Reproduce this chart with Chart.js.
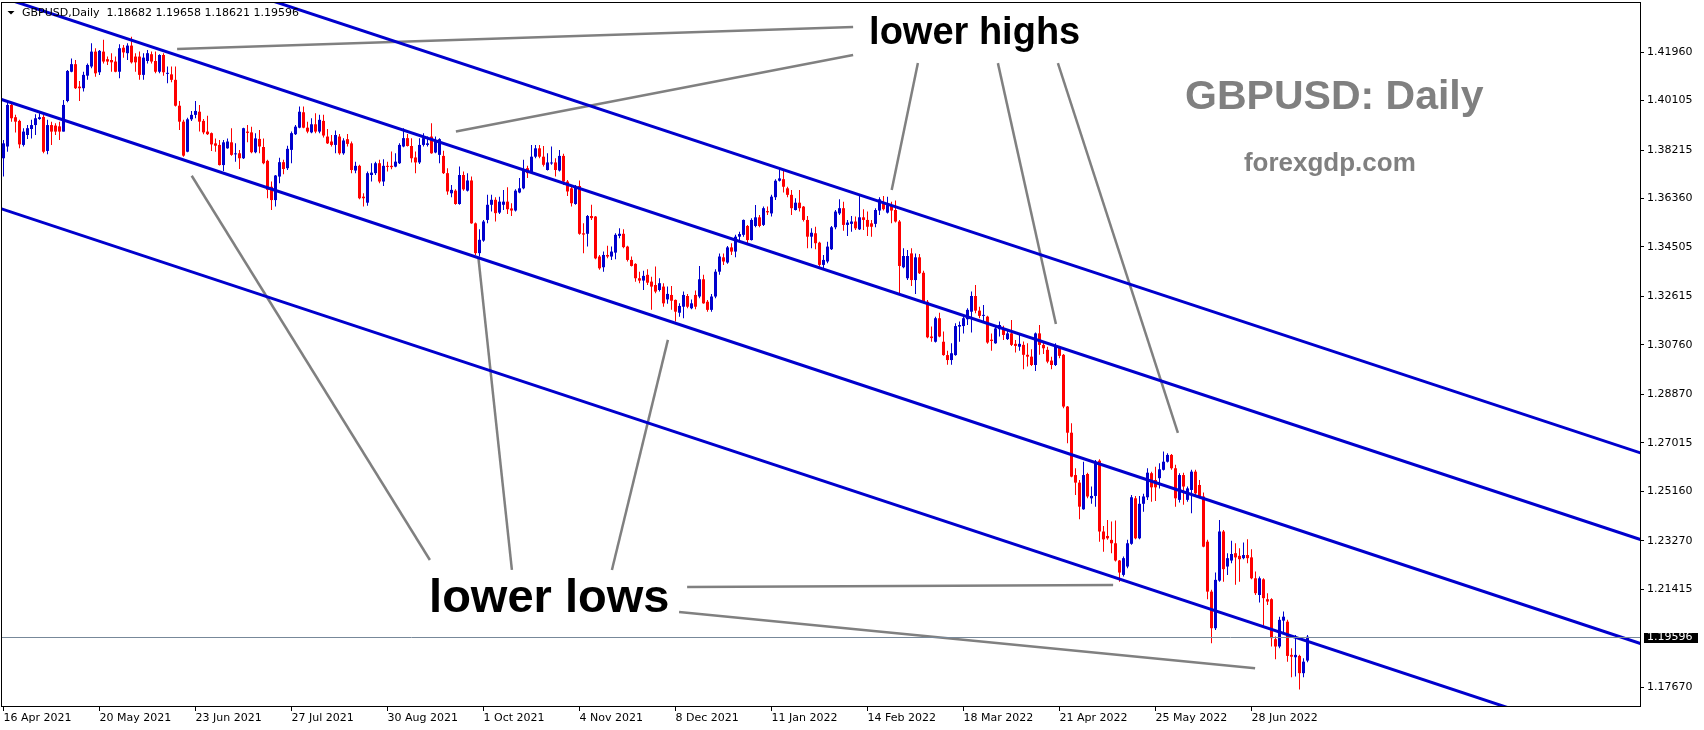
<!DOCTYPE html>
<html><head><meta charset="utf-8">
<script src="https://cdn.jsdelivr.net/npm/chart.js@4.4.1/dist/chart.umd.min.js"></script>
<style>html,body{margin:0;padding:0;background:#fff;overflow:hidden}canvas{display:block}</style>
</head><body>
<canvas id="c" width="1704" height="730"></canvas>
<script>
const SYMBOL = 'GBPUSD';
const PERIOD = 'Daily';

const OPEN = [
1.3790,1.3835,1.3994,1.3947,1.3933,1.3841,1.3879,1.3902,1.3917,1.3940,
1.3948,1.3818,1.3917,1.3915,1.3912,1.3892,1.4009,1.4121,1.4150,1.4064,
1.4058,1.4106,1.4141,1.4198,1.4119,1.4198,1.4169,1.4166,1.4160,1.4121,
1.4213,1.4192,1.4221,1.4179,1.4179,1.4109,1.4162,1.4188,1.4162,1.4121,
1.4185,1.4113,1.4111,1.4090,1.3991,1.3930,1.3815,1.3939,1.3956,1.3968,
1.3933,1.3892,1.3886,1.3847,1.3841,1.3764,1.3828,1.3851,1.3805,1.3809,
1.3790,1.3892,1.3889,1.3813,1.3864,1.3833,1.3780,1.3681,1.3630,1.3720,
1.3775,1.3752,1.3822,1.3882,1.3907,1.3966,1.3907,1.3889,1.3920,1.3892,
1.3933,1.3873,
1.3854,1.3841,1.3873,1.3809,1.3863,1.3847,1.3743,1.3761,1.3643,1.3620,
1.3726,1.3733,1.3771,1.3701,1.3761,1.3761,1.3758,1.3771,1.3835,1.3867,
1.3837,1.3793,1.3774,1.3841,1.3841,1.3873,1.3812,1.3803,1.3799,1.3733,
1.3656,1.3666,1.3615,1.3726,1.3666,1.3705,1.3541,1.3427,1.3475,1.3554,
1.3612,1.3631,1.3582,1.3612,1.3624,1.3598,1.3590,1.3659,1.3675,1.3752,
1.3735,1.3796,1.3828,1.3796,1.3745,1.3770,1.3774,1.3743,1.3799,1.3701,
1.3675,1.3615,1.3684,1.3503,1.3501,1.3569,1.3567,1.3414,1.3373,1.3420,
1.3414,1.3429,1.3493,1.3501,1.3452,1.3401,1.3386,1.3331,1.3322,1.3344,
1.3318,1.3305,1.3286,
1.3299,1.3250,1.3267,1.3248,1.3199,1.3222,1.3263,1.3216,1.3267,1.3261,
1.3327,1.3241,1.3210,1.3261,1.3356,1.3411,1.3391,1.3449,1.3433,1.3490,
1.3497,1.3531,1.3477,1.3531,1.3564,1.3535,1.3588,1.3579,1.3641,1.3704,
1.3710,1.3675,1.3650,1.3592,1.3620,1.3605,1.3554,1.3490,1.3503,1.3467,
1.3382,1.3395,1.3442,1.3526,1.3579,1.3599,1.3535,1.3539,1.3548,1.3518,
1.3564,1.3554,1.3541,1.3539,1.3590,1.3618,1.3582,1.3611,1.3592,1.3548,
1.3373,1.3331,1.3426,1.3324,1.3411,1.3352,1.3241,1.3108,1.3088,1.3178,
1.3088,1.3037,1.3018,1.3037,1.3146,1.3148,1.3174,1.3203,1.3263,1.3207,
1.3187,1.3184,1.3096,1.3082,1.3136,
1.3136,1.3098,1.3120,1.3080,1.3069,1.3076,1.3038,1.3031,1.2999,1.3120,
1.3076,1.3057,1.3016,1.2999,1.3067,1.3038,1.2840,1.2740,1.2578,1.2549,
1.2447,1.2582,1.2489,1.2498,1.2633,1.2362,1.2345,1.2330,1.2317,1.2251,
1.2196,1.2228,1.2315,1.2489,1.2336,1.2468,1.2493,1.2585,1.2559,1.2566,
1.2598,1.2629,1.2655,1.2604,1.2483,1.2578,1.2483,1.2521,1.2591,1.2540,
1.2496,1.2323,1.2132,1.1992,1.2174,1.2362,1.2228,1.2251,1.2279,1.2269,
1.2260,1.2272,1.2263,1.2183,1.2119,1.2179,1.2103,1.2103,1.1950,1.1922,
1.2021,1.2017,1.1890,1.1881,1.1886,1.1820,1.18682
];
const HIGH = [
1.3860,1.4013,1.4000,1.3956,1.3937,1.3905,1.3917,1.3937,1.3958,1.3962,
1.3956,1.3937,1.3930,1.3924,1.3930,1.4013,1.4128,1.4172,1.4166,1.4086,
1.4121,1.4153,1.4230,1.4211,1.4204,1.4243,1.4179,1.4192,1.4179,1.4226,
1.4223,1.4230,1.4255,1.4192,1.4198,1.4192,1.4204,1.4198,1.4198,1.4188,
1.4192,1.4141,1.4141,1.4141,1.4009,1.3937,1.3945,1.3971,1.4009,1.3994,
1.3940,1.3953,1.3889,1.3866,1.3860,1.3860,1.3866,1.3905,1.3847,1.3822,
1.3907,1.3917,1.3911,1.3886,1.3898,1.3866,1.3784,1.3701,1.3726,1.3792,
1.3784,1.3838,1.3892,1.3917,1.3988,1.3988,1.3930,1.3943,1.3962,1.3956,
1.3956,1.3902,
1.3879,1.3896,1.3883,1.3867,1.3883,1.3854,1.3777,1.3765,1.3656,1.3739,
1.3771,1.3777,1.3784,1.3786,1.3777,1.3816,1.3809,1.3847,1.3905,1.3883,
1.3867,1.3816,1.3867,1.3886,1.3873,1.3924,1.3873,1.3867,1.3819,1.3752,
1.3688,1.3671,1.3758,1.3739,1.3733,1.3720,1.3544,1.3518,1.3554,1.3650,
1.3650,1.3641,1.3643,1.3669,1.3679,1.3618,1.3671,1.3714,1.3784,1.3761,
1.3841,1.3841,1.3841,1.3837,1.3809,1.3835,1.3790,1.3822,1.3807,1.3707,
1.3682,1.3688,1.3705,1.3541,1.3573,1.3612,1.3569,1.3420,1.3433,1.3455,
1.3452,1.3503,1.3522,1.3518,1.3455,1.3414,1.3388,1.3356,1.3360,1.3365,
1.3337,1.3376,1.3331,
1.3312,1.3299,1.3301,1.3250,1.3235,1.3280,1.3271,1.3250,1.3284,1.3378,
1.3344,1.3248,1.3271,1.3365,1.3426,1.3426,1.3454,1.3465,1.3497,1.3509,
1.3556,1.3535,1.3560,1.3611,1.3573,1.3605,1.3605,1.3650,1.3710,1.3752,
1.3745,1.3681,1.3669,1.3637,1.3669,1.3607,1.3569,1.3522,1.3528,1.3471,
1.3420,1.3471,1.3531,1.3592,1.3633,1.3624,1.3554,1.3569,1.3567,1.3650,
1.3595,1.3586,1.3554,1.3599,1.3641,1.3646,1.3643,1.3624,1.3628,1.3554,
1.3446,1.3439,1.3446,1.3426,1.3424,1.3360,1.3248,1.3146,1.3184,1.3199,
1.3127,1.3054,1.3082,1.3159,1.3165,1.3194,1.3216,1.3280,1.3305,1.3222,
1.3229,1.3187,1.3120,1.3152,1.3165,
1.3149,1.3133,1.3171,1.3095,1.3120,1.3089,1.3082,1.3059,1.3123,1.3152,
1.3089,1.3069,1.3031,1.3082,1.3072,1.3041,1.2842,1.2776,1.2604,1.2559,
1.2629,1.2587,1.2534,1.2636,1.2638,1.2383,1.2406,1.2400,1.2404,1.2253,
1.2266,1.2330,1.2502,1.2498,1.2498,1.2506,1.2604,1.2591,1.2610,1.2623,
1.2668,1.2661,1.2659,1.2617,1.2585,1.2587,1.2534,1.2598,1.2598,1.2559,
1.2511,1.2330,1.2139,1.2205,1.2406,1.2368,1.2279,1.2327,1.2317,1.2298,
1.2320,1.2332,1.2294,1.2209,1.2190,1.2183,1.2126,1.2107,1.1960,1.2036,
1.2056,1.2024,1.1915,1.1966,1.1890,1.1877,1.19658
];
const LOW = [
1.3720,1.3815,1.3930,1.3889,1.3828,1.3835,1.3864,1.3866,1.3879,1.3937,
1.3809,1.3805,1.3841,1.3879,1.3860,1.3892,1.4004,1.4119,1.4055,1.4009,
1.4045,1.4090,1.4134,1.4102,1.4109,1.4153,1.4147,1.4121,1.4119,1.4096,
1.4175,1.4166,1.4153,1.4121,1.4090,1.4090,1.4153,1.4153,1.4115,1.4115,
1.4106,1.4077,1.4081,1.3988,1.3898,1.3796,1.3813,1.3933,1.3943,1.3892,
1.3882,1.3879,1.3818,1.3815,1.3762,1.3741,1.3826,1.3800,1.3777,1.3749,
1.3787,1.3851,1.3809,1.3809,1.3809,1.3767,1.3637,1.3592,1.3605,1.3694,
1.3729,1.3745,1.3771,1.3879,1.3905,1.3905,1.3886,1.3886,1.3886,1.3886,
1.3869,1.3845,
1.3835,1.3809,1.3803,1.3803,1.3835,1.3733,1.3733,1.3633,1.3605,1.3608,
1.3701,1.3726,1.3694,1.3684,1.3739,1.3748,1.3756,1.3768,1.3832,1.3835,
1.3774,1.3733,1.3768,1.3835,1.3835,1.3807,1.3809,1.3771,1.3730,1.3650,
1.3641,1.3612,1.3612,1.3666,1.3663,1.3539,1.3420,1.3414,1.3471,1.3541,
1.3586,1.3548,1.3577,1.3592,1.3577,1.3569,1.3586,1.3656,1.3671,1.3714,
1.3730,1.3790,1.3790,1.3758,1.3743,1.3765,1.3720,1.3739,1.3688,1.3646,
1.3605,1.3612,1.3497,1.3427,1.3452,1.3554,1.3404,1.3363,1.3356,1.3407,
1.3401,1.3404,1.3484,1.3446,1.3395,1.3376,1.3318,1.3312,1.3286,1.3305,
1.3210,1.3274,1.3280,
1.3222,1.3233,1.3210,1.3165,1.3184,1.3178,1.3216,1.3212,1.3212,1.3254,
1.3233,1.3203,1.3203,1.3254,1.3344,1.3382,1.3386,1.3420,1.3411,1.3471,
1.3490,1.3465,1.3475,1.3526,1.3526,1.3531,1.3573,1.3567,1.3630,1.3701,
1.3659,1.3641,1.3573,1.3590,1.3586,1.3548,1.3446,1.3446,1.3442,1.3375,
1.3363,1.3388,1.3439,1.3518,1.3573,1.3513,1.3493,1.3509,1.3516,1.3516,
1.3516,1.3493,1.3490,1.3526,1.3573,1.3590,1.3579,1.3541,1.3544,1.3273,
1.3369,1.3324,1.3301,1.3271,1.3347,1.3235,1.3101,1.3088,1.3085,1.3105,
1.3034,1.3000,1.3000,1.3034,1.3088,1.3120,1.3152,1.3123,1.3197,1.3178,
1.3165,1.3080,1.3054,1.3080,1.3108,
1.3095,1.3095,1.3072,1.3047,1.3054,1.2983,1.2993,1.2995,1.2976,1.3038,
1.3041,1.3006,1.2983,1.2995,1.3025,1.2834,1.2700,1.2570,1.2502,1.2409,
1.2445,1.2489,1.2468,1.2457,1.2323,1.2285,1.2330,1.2279,1.2247,1.2170,
1.2190,1.2221,1.2311,1.2332,1.2332,1.2438,1.2483,1.2476,1.2479,1.2527,
1.2595,1.2626,1.2598,1.2457,1.2473,1.2464,1.2476,1.2432,1.2496,1.2489,
1.2302,1.2103,1.1934,1.1985,1.2170,1.2170,1.2196,1.2241,1.2158,1.2170,
1.2256,1.2241,1.2179,1.2119,1.2090,1.2001,1.2081,1.1922,1.1873,1.1915,
1.1973,1.1864,1.1804,1.1807,1.1758,1.1804,1.18621
];
const CLOSE = [
1.3847,1.3994,1.3943,1.3930,1.3843,1.3892,1.3905,1.3917,1.3943,1.3947,
1.3815,1.3917,1.3892,1.3892,1.3892,1.3994,1.4124,1.4150,1.4058,1.4058,
1.4109,1.4147,1.4198,1.4115,1.4201,1.4160,1.4160,1.4157,1.4121,1.4211,
1.4195,1.4221,1.4157,1.4157,1.4109,1.4175,1.4192,1.4160,1.4121,1.4185,
1.4119,1.4116,1.4090,1.3991,1.3930,1.3800,1.3939,1.3956,1.3971,1.3930,
1.3889,1.3882,1.3843,1.3838,1.3764,1.3851,1.3854,1.3803,1.3808,1.3790,
1.3905,1.3887,1.3813,1.3866,1.3835,1.3771,1.3669,1.3630,1.3724,1.3775,
1.3749,1.3826,1.3886,1.3911,1.3968,1.3907,1.3892,1.3920,1.3892,1.3937,
1.3877,1.3847,
1.3841,1.3879,1.3809,1.3858,1.3845,1.3745,1.3761,1.3637,1.3637,1.3733,
1.3735,1.3771,1.3701,1.3761,1.3757,1.3756,1.3777,1.3841,1.3867,1.3837,
1.3790,1.3774,1.3841,1.3867,1.3847,1.3809,1.3854,1.3863,1.3733,1.3663,
1.3669,1.3615,1.3726,1.3671,1.3705,1.3541,1.3427,1.3478,1.3548,1.3612,
1.3631,1.3580,1.3624,1.3624,1.3595,1.3590,1.3666,1.3675,1.3748,1.3733,
1.3796,1.3828,1.3796,1.3765,1.3774,1.3772,1.3745,1.3799,1.3701,1.3663,
1.3618,1.3682,1.3501,1.3498,1.3569,1.3561,1.3407,1.3369,1.3420,1.3414,
1.3433,1.3497,1.3501,1.3450,1.3401,1.3378,1.3331,1.3322,1.3340,1.3314,
1.3299,1.3280,1.3312,
1.3235,1.3271,1.3245,1.3203,1.3225,1.3267,1.3222,1.3235,1.3222,1.3327,
1.3235,1.3210,1.3261,1.3356,1.3414,1.3395,1.3449,1.3433,1.3490,1.3500,
1.3554,1.3477,1.3554,1.3564,1.3531,1.3599,1.3583,1.3643,1.3704,1.3713,
1.3681,1.3650,1.3599,1.3620,1.3599,1.3554,1.3490,1.3505,1.3465,1.3382,
1.3401,1.3452,1.3526,1.3586,1.3599,1.3535,1.3544,1.3548,1.3522,1.3564,
1.3554,1.3528,1.3528,1.3592,1.3633,1.3595,1.3611,1.3590,1.3548,1.3378,
1.3416,1.3416,1.3324,1.3411,1.3350,1.3241,1.3105,1.3102,1.3178,1.3108,
1.3037,1.3018,1.3044,1.3148,1.3152,1.3178,1.3210,1.3263,1.3207,1.3187,
1.3190,1.3085,1.3091,1.3139,1.3152,
1.3114,1.3120,1.3076,1.3072,1.3080,1.3038,1.3031,1.2999,1.3120,1.3076,
1.3063,1.3012,1.2999,1.3069,1.3034,1.2840,1.2740,1.2572,1.2549,1.2457,
1.2578,1.2496,1.2498,1.2629,1.2362,1.2332,1.2336,1.2317,1.2251,1.2205,
1.2260,1.2317,1.2493,1.2336,1.2468,1.2496,1.2587,1.2531,1.2531,1.2600,
1.2629,1.2655,1.2604,1.2489,1.2578,1.2534,1.2527,1.2591,1.2508,1.2496,
1.2304,1.2132,1.1992,1.2177,1.2362,1.2218,1.2260,1.2276,1.2263,1.2256,
1.2272,1.2260,1.2183,1.2126,1.2183,1.2107,1.2094,1.1954,1.1922,1.2024,
1.2036,1.1886,1.1883,1.1890,1.1820,1.1864,1.19596
];

// x axis: bar index of each date label, and the labels
const X_TICK_INDEX = [0,24,48,72,96,120,144,168,192,216,240,264,288,312];
const X_TICK_LABELS = ['16 Apr 2021','20 May 2021','23 Jun 2021','27 Jul 2021','30 Aug 2021','1 Oct 2021','4 Nov 2021','8 Dec 2021','11 Jan 2022','14 Feb 2022','18 Mar 2022','21 Apr 2022','25 May 2022','28 Jun 2022'];
// y axis price labels
const PRICE_TICKS = [1.41960,1.40105,1.38215,1.36360,1.34505,1.32615,1.30760,1.28870,1.27015,1.25160,1.23270,1.21415,1.17670];
const PRICE_MIN = 1.16944, PRICE_MAX = 1.43840;
const BAR_MIN = -0.375, BAR_MAX = 409.125;

// descending channel lines: [barIndex, price] end points
const CHANNEL_1 = [[-10,1.47824],[420,1.26084]];
const CHANNEL_2 = [[-10,1.44545],[420,1.22769]];
const CHANNEL_3 = [[-10,1.40631],[420,1.18788]];
const CHANNEL_4 = [[-10,1.36447],[420,1.14656]];

// grey pointer lines: [barIndex, price] pairs
const POINTERS = [
  [[43.4,1.4208],[212.4,1.4292]],
  [[113.1,1.3892],[212.4,1.4185]],
  [[222.05,1.3669],[228.6,1.4154]],
  [[263.1,1.3156],[248.6,1.4154]],
  [[293.6,1.2739],[263.6,1.4154]],
  [[47.05,1.3723],[106.6,1.2253]],
  [[118.7,1.3413],[127.1,1.2215]],
  [[166.1,1.3095],[152.1,1.2215]],
  [[170.9,1.2150],[277.4,1.2157]],
  [[168.9,1.2054],[312.9,1.1839]]
];

// annotation texts: text, bar index (left), price (baseline)
const NOTE_TEXT = ['lower highs','lower lows','GBPUSD: Daily','forexgdp.com'];
const NOTE_BAR = [216.4, 106.4, 295.4, 310.1];
const NOTE_PRICE = [1.4227, 1.2054, 1.3978, 1.3741];

const BULL = '#0000CD', BEAR = '#FF0000', LINE_BLUE = '#0000CD', GREY = '#808080';
const NOTE_FONT = ['bold 38px "Liberation Sans"','bold 47px "Liberation Sans"','bold 41px "Liberation Sans"','bold 26px "Liberation Sans"'];
const NOTE_COLOR = ['#000','#000',GREY,GREY];

const colors = CLOSE.map((c,i)=> c >= OPEN[i] ? BULL : BEAR);
const wickData = OPEN.map((o,i)=>({x:i, y:[LOW[i], HIGH[i]]}));
const bodyData = OPEN.map((o,i)=>({x:i, y:[Math.min(o,CLOSE[i]), Math.max(o,CLOSE[i])]}));
const toPts = arr => arr.map(p=>({x:p[0], y:p[1]}));

const lineDs = (pts, color, w) => ({type:'line', data: toPts(pts), borderColor: color, borderWidth: w,
  pointRadius: 0, fill: false, tension: 0, order: 0, clip: 0, borderCapStyle:'butt'});

const datasets = [
  {type:'bar', data: wickData, backgroundColor: colors, barThickness: 1, grouped: false, order: 3, borderWidth: 0, inflateAmount: 0},
  {type:'bar', data: bodyData, backgroundColor: colors, barThickness: 3, grouped: false, order: 2, borderWidth: 0, inflateAmount: 0, minBarLength: 1},
  lineDs(CHANNEL_1, LINE_BLUE, 3), lineDs(CHANNEL_2, LINE_BLUE, 3), lineDs(CHANNEL_3, LINE_BLUE, 3), lineDs(CHANNEL_4, LINE_BLUE, 3),
  ...POINTERS.map(p => lineDs(p, GREY, 2.5))
];

const overlay = {
  id: 'overlay',
  afterDatasetsDraw(chart) {
    const {ctx, chartArea: a, scales: {x, y}} = chart;
    ctx.save();
    // current price line
    const last = CLOSE[CLOSE.length-1];
    const py = Math.round(y.getPixelForValue(last)) + 0.5;
    ctx.strokeStyle = '#778899'; ctx.lineWidth = 1;
    ctx.beginPath(); ctx.moveTo(a.left, py); ctx.lineTo(a.right, py); ctx.stroke();
    // notes
    ctx.textBaseline = 'alphabetic'; ctx.textAlign = 'left';
    NOTE_TEXT.forEach((t,i)=>{
      ctx.font = NOTE_FONT[i]; ctx.fillStyle = NOTE_COLOR[i];
      ctx.fillText(t, x.getPixelForValue(NOTE_BAR[i]), y.getPixelForValue(NOTE_PRICE[i]));
    });
    // header
    ctx.fillStyle = '#000';
    ctx.beginPath(); ctx.moveTo(a.left+5.5, a.top+8); ctx.lineTo(a.left+12.5, a.top+8); ctx.lineTo(a.left+9, a.top+11.5); ctx.closePath(); ctx.fill();
    ctx.font = '11px "DejaVu Sans"'; ctx.textBaseline = 'middle';
    const n = CLOSE.length-1;
    const head = `${SYMBOL},${PERIOD}  ${OPEN[n].toFixed(5)} ${HIGH[n].toFixed(5)} ${LOW[n].toFixed(5)} ${CLOSE[n].toFixed(5)}`;
    ctx.fillText(head, a.left+20, a.top+10);
    // border
    ctx.strokeStyle = '#000'; ctx.lineWidth = 1;
    ctx.strokeRect(a.left-0.5, a.top-0.5, a.right-a.left+1, a.bottom-a.top+1);
    // price label
    ctx.fillStyle = '#000';
    ctx.fillRect(a.right+4, Math.round(py)-5, 54, 10);
    ctx.fillStyle = '#fff'; ctx.font = '11px "DejaVu Sans"'; ctx.textBaseline = 'middle';
    ctx.fillText(last.toFixed(5), a.right+7, py);
    ctx.restore();
  }
};

Chart.defaults.font.family = '"DejaVu Sans"';
Chart.defaults.font.size = 11;
Chart.defaults.color = '#000';

new Chart(document.getElementById('c'), {
  type: 'bar',
  data: { datasets },
  options: {
    responsive: false, animation: false, events: [], devicePixelRatio: 1,
    layout: { padding: { left: 2, top: 3, right: 0, bottom: 0 } },
    plugins: { legend: { display: false }, tooltip: { enabled: false } },
    scales: {
      x: {
        type: 'linear', min: BAR_MIN, max: BAR_MAX, offset: false,
        grid: { drawOnChartArea: false, drawTicks: true, tickLength: 5, color: '#000', offset: false },
        border: { display: false },
        afterBuildTicks: s => { s.ticks = X_TICK_INDEX.map(v => ({value: v})); },
        afterFit: s => { s.height = 24; s.paddingLeft = 0; s.paddingRight = 0; },
        ticks: { autoSkip: false, maxRotation: 0, align: 'start', padding: 1, color: '#000',
          callback: (v, idx) => X_TICK_LABELS[idx] }
      },
      y: {
        type: 'linear', position: 'right', min: PRICE_MIN, max: PRICE_MAX,
        grid: { drawOnChartArea: false, drawTicks: true, tickLength: 4, color: '#000' },
        border: { display: false },
        afterBuildTicks: s => { s.ticks = PRICE_TICKS.map(v => ({value: v})); },
        afterFit: s => { s.width = 64; s.paddingTop = 0; s.paddingBottom = 0; },
        ticks: { autoSkip: false, padding: 3, color: '#000', callback: v => Number(v).toFixed(5) }
      }
    }
  },
  plugins: [overlay]
});
</script>
</body></html>
